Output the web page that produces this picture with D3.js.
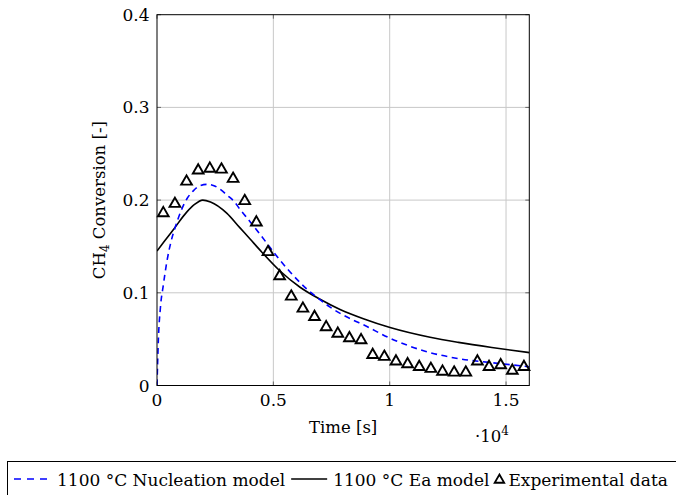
<!DOCTYPE html>
<html>
<head>
<meta charset="utf-8">
<script src="https://cdn.jsdelivr.net/npm/d3@7"></script>
<style>
  body { margin: 0; background: #fff; }
  text { font-family: "DejaVu Serif", serif; fill: #000; }
</style>
</head>
<body>
<div id="chart"></div>
<script>
// experimental data (time in s, conversion)
const expTime = [270, 770, 1270, 1770, 2270, 2770, 3270, 3770, 4270, 4770, 5270, 5770,
  6270, 6770, 7270, 7770, 8270, 8770, 9270, 9770, 10270, 10770, 11270, 11770,
  12270, 12770, 13270, 13770, 14270, 14770, 15270, 15770];
const expConv = [0.186, 0.196, 0.220, 0.232, 0.234, 0.233, 0.223, 0.199, 0.176, 0.144, 0.118, 0.096,
  0.083, 0.074, 0.063, 0.056, 0.051, 0.049, 0.033, 0.031, 0.026, 0.023, 0.020, 0.018,
  0.015, 0.014, 0.014, 0.026, 0.020, 0.022, 0.016, 0.020];

// nucleation model (blue dashed)
const nucTime = [0, 60, 150, 270, 420, 600, 800, 1060, 1300, 1560, 1850, 2150, 2450, 2750,
  3000, 3300, 3570, 4000, 4430, 5000, 5290, 5720, 6150, 6440, 7010, 7440, 8440, 8870,
  10017, 11522, 12955, 14390, 16000];
const nucConv = [0, 0.05, 0.085, 0.108, 0.133, 0.155, 0.172, 0.19, 0.202, 0.21, 0.2155, 0.217, 0.2155, 0.211,
  0.2055, 0.199, 0.19, 0.1767, 0.163, 0.1443, 0.135, 0.1225, 0.111, 0.104, 0.0925, 0.0845, 0.0705, 0.0655,
  0.051, 0.037, 0.029, 0.0246, 0.0203];

// Ea model (black solid)
const eaTime = [0, 300, 700, 1276, 1600, 1965, 2300, 2996, 3568, 4000, 4428, 5288, 6148, 7008,
  7868, 8870, 10017, 11737, 12955, 14390, 16000];
const eaConv = [0.145, 0.155, 0.168, 0.187, 0.195, 0.2, 0.198, 0.186, 0.170, 0.158, 0.146, 0.1235, 0.106, 0.093,
  0.082, 0.072, 0.0625, 0.052, 0.0465, 0.041, 0.0355];

const xTicks = [0, 5000, 10000, 15000];
const xTickLabels = ["0", "0.5", "1", "1.5"];
const yTicks = [0, 0.1, 0.2, 0.3, 0.4];
const yTickLabels = ["0", "0.1", "0.2", "0.3", "0.4"];

const W = 676, H = 495;
const pLeft = 157, pRight = 529.3, pTop = 14.7, pBottom = 385.5;

const svg = d3.select("#chart").append("svg")
  .attr("width", W).attr("height", H);

const x = d3.scaleLinear().domain([0, 16000]).range([pLeft, pRight]);
const y = d3.scaleLinear().domain([0, 0.4]).range([pBottom, pTop]);

// grid
svg.append("g").selectAll("line").data(xTicks.slice(1)).enter().append("line")
  .attr("x1", d => x(d)).attr("x2", d => x(d))
  .attr("y1", pTop).attr("y2", pBottom)
  .attr("stroke", "#c8c8c8").attr("stroke-width", 1);
svg.append("g").selectAll("line").data(yTicks.slice(1, -1)).enter().append("line")
  .attr("x1", pLeft).attr("x2", pRight)
  .attr("y1", d => y(d)).attr("y2", d => y(d))
  .attr("stroke", "#c8c8c8").attr("stroke-width", 1);

// inner tick marks
const tk = svg.append("g").attr("stroke", "#666").attr("stroke-width", 1);
xTicks.forEach(t => {
  tk.append("line").attr("x1", x(t)).attr("x2", x(t)).attr("y1", pBottom).attr("y2", pBottom - 4);
  tk.append("line").attr("x1", x(t)).attr("x2", x(t)).attr("y1", pTop).attr("y2", pTop + 4);
});
yTicks.forEach(t => {
  tk.append("line").attr("x1", pLeft).attr("x2", pLeft + 4).attr("y1", y(t)).attr("y2", y(t));
  tk.append("line").attr("x1", pRight).attr("x2", pRight - 4).attr("y1", y(t)).attr("y2", y(t));
});

// clip
svg.append("clipPath").attr("id", "clip").append("rect")
  .attr("x", pLeft).attr("y", pTop).attr("width", pRight - pLeft).attr("height", pBottom - pTop);

const plot = svg.append("g").attr("clip-path", "url(#clip)");

const line = d3.line().x(d => x(d[0])).y(d => y(d[1])).curve(d3.curveMonotoneX);

plot.append("path")
  .datum(eaTime.map((t, i) => [t, eaConv[i]]))
  .attr("d", line)
  .attr("fill", "none").attr("stroke", "#000").attr("stroke-width", 1.6);

plot.append("path")
  .datum(nucTime.map((t, i) => [t, nucConv[i]]))
  .attr("d", line)
  .attr("fill", "none").attr("stroke", "#0000ff").attr("stroke-width", 1.6)
  .attr("stroke-dasharray", "6,4.5");

// triangle markers
const tri = r => `M0,${-r}L${0.866 * r},${0.5 * r}L${-0.866 * r},${0.5 * r}Z`;
svg.append("g").selectAll("path").data(expTime.map((t, i) => [t, expConv[i]])).enter()
  .append("path")
  .attr("d", tri(6.2))
  .attr("transform", d => `translate(${x(d[0])},${y(d[1])})`)
  .attr("fill", "none").attr("stroke", "#000").attr("stroke-width", 1.9)
  .attr("stroke-linejoin", "miter");

// frame
svg.append("rect")
  .attr("x", pLeft).attr("y", pTop).attr("width", pRight - pLeft).attr("height", pBottom - pTop)
  .attr("fill", "none").attr("stroke", "#000").attr("stroke-width", 1);

// tick labels
svg.append("g").selectAll("text").data(xTicks).enter().append("text")
  .attr("x", d => x(d)).attr("y", 406)
  .attr("text-anchor", "middle").attr("font-size", "17px")
  .text((d, i) => xTickLabels[i]);
svg.append("g").selectAll("text").data(yTicks).enter().append("text")
  .attr("x", 149.5).attr("y", d => y(d) + 6)
  .attr("text-anchor", "end").attr("font-size", "17px")
  .text((d, i) => yTickLabels[i]);

// axis labels
svg.append("text")
  .attr("x", (pLeft + pRight) / 2).attr("y", 433)
  .attr("text-anchor", "middle").attr("font-size", "16.5px")
  .text("Time [s]");

const sc = svg.append("text").attr("x", 475).attr("y", 442).attr("font-size", "16.5px");
sc.append("tspan").text("·10");
sc.append("tspan").attr("font-size", "12px").attr("dy", -7).text("4");

const yl = svg.append("text")
  .attr("transform", `translate(104.5,${(pTop + pBottom) / 2}) rotate(-90)`)
  .attr("text-anchor", "middle").attr("font-size", "16.5px");
yl.append("tspan").text("CH");
yl.append("tspan").attr("font-size", "12px").attr("dy", 4).text("4");
yl.append("tspan").attr("dy", -4).text(" Conversion [-]");

// legend
const lg = svg.append("g");
lg.append("rect").attr("x", 7.5).attr("y", 461.5).attr("width", 700).attr("height", 60)
  .attr("fill", "none").attr("stroke", "#000").attr("stroke-width", 1);
const ly = 479, lb = 485.5;
lg.append("line").attr("x1", 14).attr("x2", 47).attr("y1", ly).attr("y2", ly)
  .attr("stroke", "#0000ff").attr("stroke-width", 1.6).attr("stroke-dasharray", "7,6");
const t1 = lg.append("text").attr("x", 57).attr("y", lb).attr("font-size", "17px")
  .text("1100 °C Nucleation model");
let cx = 57 + t1.node().getComputedTextLength() + 6;
lg.append("line").attr("x1", cx).attr("x2", cx + 36).attr("y1", ly).attr("y2", ly)
  .attr("stroke", "#000").attr("stroke-width", 1.6);
cx += 42;
const t2 = lg.append("text").attr("x", cx).attr("y", lb).attr("font-size", "17px")
  .text("1100 °C Ea model");
cx += t2.node().getComputedTextLength() + 10;
lg.append("path").attr("d", tri(5.5))
  .attr("transform", `translate(${cx},${ly + 1})`)
  .attr("fill", "none").attr("stroke", "#000").attr("stroke-width", 1.8);
cx += 9;
lg.append("text").attr("x", cx).attr("y", lb).attr("font-size", "17px")
  .text("Experimental data");
</script>
</body>
</html>
